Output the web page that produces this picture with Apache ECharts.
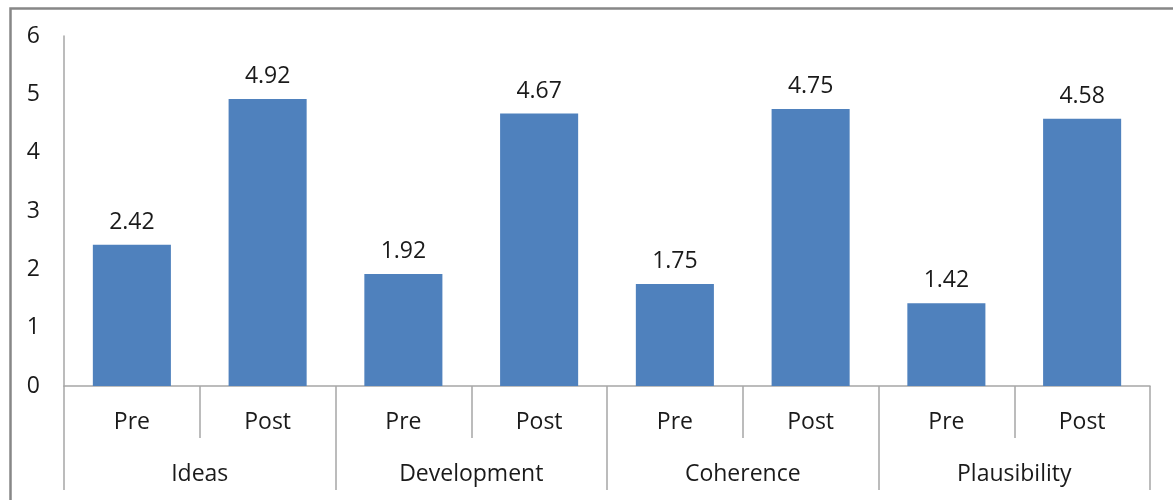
<!DOCTYPE html>
<html>
<head>
<meta charset="utf-8">
<script src="https://cdn.jsdelivr.net/npm/echarts@6/dist/echarts.min.js"></script>
<style>
  html, body { margin: 0; padding: 0; background: #ffffff; }
  #chart { width: 1173px; height: 500px; }
</style>
</head>
<body>
<div id="chart"></div>
<script>
// Writing scores before and after, grouped by criterion
const groups = ['Ideas', 'Development', 'Coherence', 'Plausibility'];
const phases = ['Pre', 'Post'];
const preScores = [2.42, 1.92, 1.75, 1.42];
const postScores = [4.92, 4.67, 4.75, 4.58];
const yTicks = [0, 1, 2, 3, 4, 5, 6];

// Flatten to one bar per (group, phase) pair
const innerCategories = [];
const barValues = [];
groups.forEach((g, i) => {
  innerCategories.push(phases[0]);
  barValues.push(preScores[i]);
  innerCategories.push(phases[1]);
  barValues.push(postScores[i]);
});

const FONT = '"Open Sans", "Noto Sans", sans-serif';
const TEXT = '#1a1a1a';
const AXIS = '#a6a6a6';

const chart = echarts.init(document.getElementById('chart'));
chart.setOption({
  animation: false,
  backgroundColor: '#ffffff',
  graphic: [{
    type: 'rect',
    left: 8, top: 6,
    shape: { width: 1200, height: 600 },
    style: { fill: 'none', stroke: '#878787', lineWidth: 2.5 },
    silent: true
  }],
  grid: { left: 64, right: 23, top: 36, bottom: 114, containLabel: false },
  xAxis: [
    {
      type: 'category',
      data: innerCategories,
      position: 'bottom',
      axisLine: { show: true, lineStyle: { color: AXIS, width: 1.5 } },
      axisTick: { show: true, interval: 0, length: 52, lineStyle: { color: AXIS, width: 1.5 } },
      axisLabel: { interval: 0, margin: 25, fontSize: 23, color: TEXT, fontFamily: FONT }
    },
    {
      type: 'category',
      data: groups,
      position: 'bottom',
      axisLine: { show: false },
      axisTick: { show: true, interval: 0, length: 104, lineStyle: { color: AXIS, width: 1.5 } },
      axisLabel: { interval: 0, margin: 77, fontSize: 23, color: TEXT, fontFamily: FONT }
    }
  ],
  yAxis: {
    type: 'value',
    min: yTicks[0],
    max: yTicks[yTicks.length - 1],
    interval: 1,
    axisLine: { show: true, lineStyle: { color: AXIS, width: 1.5 } },
    axisTick: { show: false },
    splitLine: { show: false },
    axisLabel: { margin: 24, fontSize: 23, color: TEXT, fontFamily: FONT }
  },
  series: [{
    type: 'bar',
    xAxisIndex: 0,
    data: barValues,
    barWidth: '57.5%',
    itemStyle: { color: '#4f81bd' },
    label: {
      show: true,
      position: 'top',
      distance: 11,
      fontSize: 23,
      color: TEXT,
      fontFamily: FONT,
      formatter: p => p.value.toFixed(2)
    }
  }]
});
</script>
</body>
</html>
